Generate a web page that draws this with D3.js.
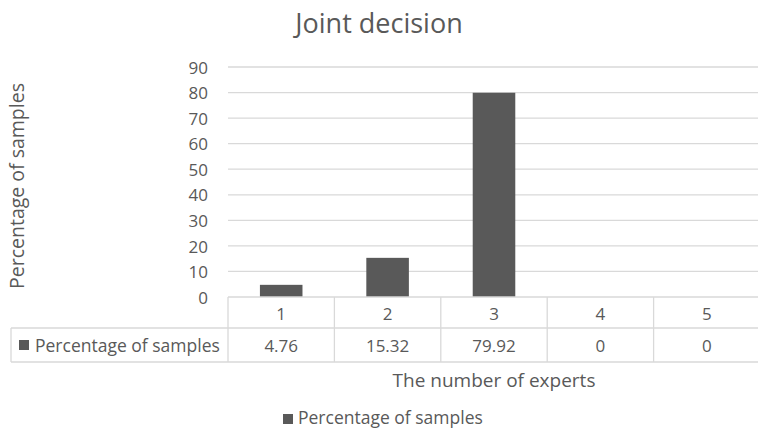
<!DOCTYPE html>
<html>
<head>
<meta charset="utf-8">
<script src="https://cdn.jsdelivr.net/npm/d3@7/dist/d3.min.js"></script>
<style>
  html, body { margin: 0; padding: 0; background: #fff; }
  text { font-family: "Open Sans", sans-serif; fill: #595959; }
</style>
</head>
<body>
<svg id="chart" width="758" height="430"></svg>
<script>
// Chart data
const categories = ["1", "2", "3", "4", "5"];
const seriesName = "Percentage of samples";
const values = [4.76, 15.32, 79.92, 0, 0];
const yTicks = [0, 10, 20, 30, 40, 50, 60, 70, 80, 90];
const chartTitle = "Joint decision";
const xTitle = "The number of experts";
const yTitle = "Percentage of samples";

const svg = d3.select("#chart");
const barColor = "#595959";
const gridColor = "#d9d9d9";
const textColor = "#595959";

const plot = { left: 228, right: 760, top: 67, bottom: 297 };
const x = d3.scaleBand().domain(categories).range([plot.left, plot.right]).paddingInner(0).paddingOuter(0);
const y = d3.scaleLinear().domain([0, 90]).range([plot.bottom, plot.top]);
const barW = x.bandwidth() * 0.4;

// Title
svg.append("text").attr("x", 379).attr("y", 33).attr("text-anchor", "middle")
  .style("font-size", "27px").text(chartTitle);

// Gridlines
svg.append("g").selectAll("line").data(yTicks.filter(d => d > 0)).join("line")
  .attr("x1", plot.left).attr("x2", plot.right)
  .attr("y1", d => y(d)).attr("y2", d => y(d))
  .attr("stroke", gridColor).attr("stroke-width", 1.3);

// Y axis labels
const yAxis = d3.axisLeft(y).tickValues(yTicks).tickSize(0).tickPadding(20);
const yg = svg.append("g").attr("transform", `translate(${plot.left},0)`).call(yAxis);
yg.select(".domain").remove();
yg.selectAll("text").style("font-size", "17px").style("font-family", "'Open Sans', sans-serif")
  .attr("fill", textColor).attr("dy", "0.36em");

// Bars
svg.append("g").selectAll("rect").data(values).join("rect")
  .attr("x", (d, i) => x(categories[i]) + (x.bandwidth() - barW) / 2)
  .attr("width", barW)
  .attr("y", d => y(d))
  .attr("height", d => y(0) - y(d))
  .attr("fill", barColor);

// Data table
const row1Top = plot.bottom, row1Bot = 328, row2Bot = 362, tableLeft = 11;
const tg = svg.append("g").attr("stroke", gridColor).attr("stroke-width", 1.3).attr("fill", "none");
tg.append("line").attr("x1", plot.left).attr("x2", plot.right).attr("y1", row1Top).attr("y2", row1Top);
tg.append("line").attr("x1", tableLeft).attr("x2", plot.right).attr("y1", row1Bot).attr("y2", row1Bot);
tg.append("line").attr("x1", tableLeft).attr("x2", plot.right).attr("y1", row2Bot).attr("y2", row2Bot);
tg.append("line").attr("x1", tableLeft).attr("x2", tableLeft).attr("y1", row1Bot).attr("y2", row2Bot);
const cuts = categories.map(c => x(c)).concat([plot.right]);
tg.selectAll("line.v").data(cuts).join("line").attr("class", "v")
  .attr("x1", d => d).attr("x2", d => d).attr("y1", row1Top).attr("y2", row2Bot);

svg.append("g").selectAll("text").data(categories).join("text")
  .attr("x", d => x(d) + x.bandwidth() / 2).attr("y", 320)
  .attr("text-anchor", "middle").style("font-size", "17px").text(d => d);
svg.append("g").selectAll("text").data(values).join("text")
  .attr("x", (d, i) => x(categories[i]) + x.bandwidth() / 2).attr("y", 352)
  .attr("text-anchor", "middle").style("font-size", "17px").text(d => d);

svg.append("rect").attr("x", 19).attr("y", 340).attr("width", 10).attr("height", 10).attr("fill", barColor);
svg.append("text").attr("x", 35).attr("y", 352)
  .style("font-size", "17.5px").text(seriesName);

// Axis titles
svg.append("text").attr("x", 494).attr("y", 387).attr("text-anchor", "middle")
  .style("font-size", "19px").text(xTitle);
svg.append("text").attr("transform", "translate(24,186) rotate(-90)").attr("text-anchor", "middle")
  .style("font-size", "19.5px").text(yTitle);

// Legend
svg.append("rect").attr("x", 283).attr("y", 414).attr("width", 10).attr("height", 10).attr("fill", barColor);
svg.append("text").attr("x", 298).attr("y", 424).style("font-size", "17.5px").text(seriesName);
</script>
</body>
</html>
